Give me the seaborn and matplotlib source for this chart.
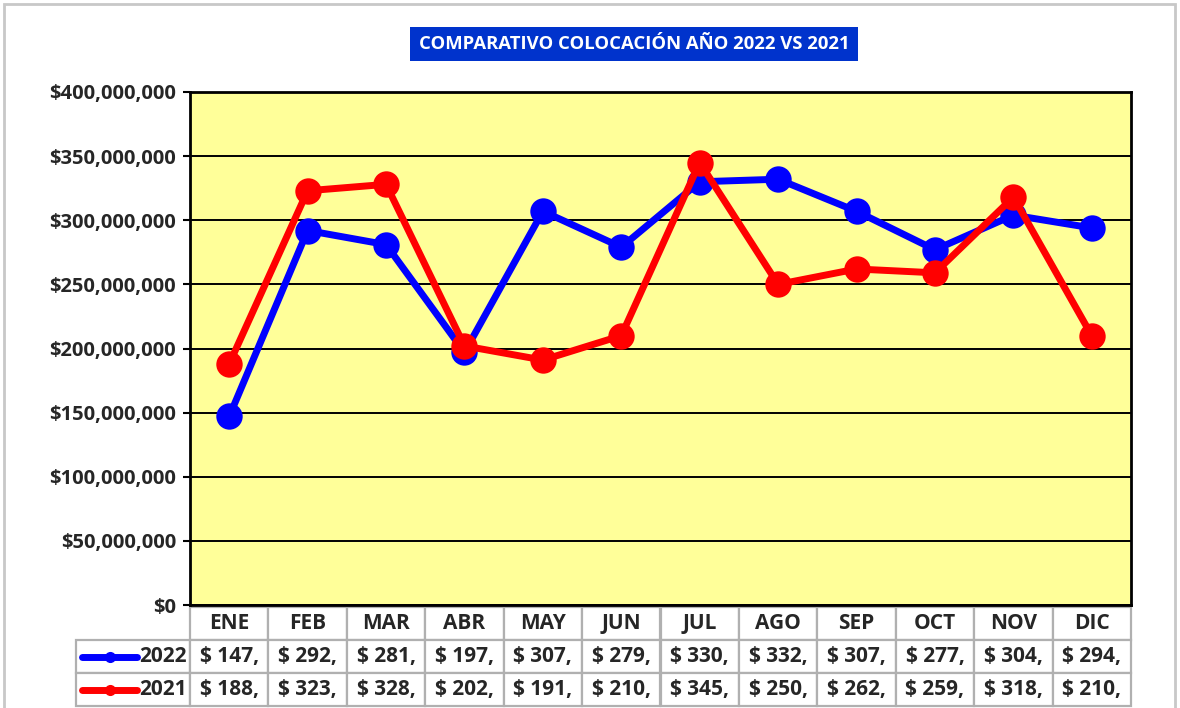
import pandas as pd
import numpy as np
import matplotlib.pyplot as plt
import seaborn as sns
from matplotlib.lines import Line2D
from matplotlib.patches import Rectangle
from matplotlib.ticker import FuncFormatter, MultipleLocator

# data (millones de pesos)
meses = ['ENE', 'FEB', 'MAR', 'ABR', 'MAY', 'JUN', 'JUL', 'AGO', 'SEP', 'OCT', 'NOV', 'DIC']
v2022 = [147, 292, 281, 197, 307, 279, 330, 332, 307, 277, 304, 294]
v2021 = [188, 323, 328, 202, 191, 210, 345, 250, 262, 259, 318, 210]
colores = {'2022': '#0000FF', '2021': '#FF0000'}

df = pd.DataFrame({
    'mes': meses * 2,
    'año': ['2022'] * 12 + ['2021'] * 12,
    'valor': [v * 1e6 for v in v2022 + v2021],
})

sns.set_style('white')
plt.rcParams['font.family'] = ['Open Sans', 'DejaVu Sans']
plt.rcParams['font.weight'] = 'bold'

fig = plt.figure(figsize=(11.8, 7.08), dpi=100)
W, H = 1180, 708
# plot area in pixels: x 190..1131, y 92..605
ax = fig.add_axes([190 / W, (H - 605) / H, 941 / W, 513 / H])
ax.set_facecolor('#FFFF99')

sns.lineplot(data=df, x='mes', y='valor', hue='año', hue_order=['2022', '2021'],
             palette=colores, marker='o', markersize=19, markeredgewidth=0,
             linewidth=5, sort=False, legend=False, ax=ax, zorder=3)

ax.set_xlim(-0.5, 11.5)
ax.set_ylim(0, 400e6)
ax.yaxis.set_major_locator(MultipleLocator(50e6))
ax.yaxis.set_major_formatter(FuncFormatter(lambda v, p: f'${v:,.0f}'))
ax.grid(axis='y', color='black', linewidth=1.4)
ax.set_axisbelow(True)
ax.set_xticks([])
ax.set_xlabel('')
ax.set_ylabel('')
ax.tick_params(axis='y', left=True, length=5, width=1.5, color='black',
               labelsize=14.5, pad=5)
for lab in ax.get_yticklabels():
    lab.set_fontweight('bold')
for s in ax.spines.values():
    s.set_color('black')
    s.set_linewidth(2)

# title box
fig.text(634 / W, 1 - 44 / H, 'COMPARATIVO COLOCACIÓN AÑO 2022 VS 2021',
         ha='center', va='center', color='white', fontsize=13.3, fontweight='bold',
         bbox=dict(boxstyle='square,pad=0.45', facecolor='#0033CC', edgecolor='none'))

# data table below the axis (first column holds the legend keys)
label_w = 114 / 941
celltext = [['2022'] + [f'$ {v},' for v in v2022],
            ['2021'] + [f'$ {v},' for v in v2021]]
tab = ax.table(cellText=celltext, colLabels=[''] + meses,
               colWidths=[label_w] + [1 / 12] * 12, cellLoc='center',
               bbox=[-label_w, -101 / 513, 1 + label_w, 99 / 513])
tab.auto_set_font_size(False)
for (r, c), cell in tab.get_celld().items():
    cell.set_edgecolor('#B0B0B0')
    cell.set_linewidth(1.6)
    cell.set_facecolor('white')
    cell.get_text().set_fontsize(15)
    cell.get_text().set_fontweight('bold')
    if c == 0:
        cell._loc = 'right'
        cell.get_text().set_horizontalalignment('right')
        cell.PAD = 0.03
        if r == 0:
            cell.set_visible(False)

# legend keys inside the first column
for i, year in enumerate(['2022', '2021']):
    yc = 1 - (657 + 33 * i) / H
    fig.add_artist(Line2D([82 / W, 137 / W], [yc, yc], color=colores[year], lw=5,
                          solid_capstyle='round'))
    fig.add_artist(Line2D([110 / W], [yc], color=colores[year], marker='o',
                          markersize=8, markeredgewidth=0))

# outer grey frame
fig.add_artist(Rectangle((4 / W, -0.05), 1171 / W, 1 - 4 / H + 0.05, fill=False,
                         edgecolor='#C8C8C8', linewidth=2, transform=fig.transFigure))

fig.savefig('out.png', dpi=100)
